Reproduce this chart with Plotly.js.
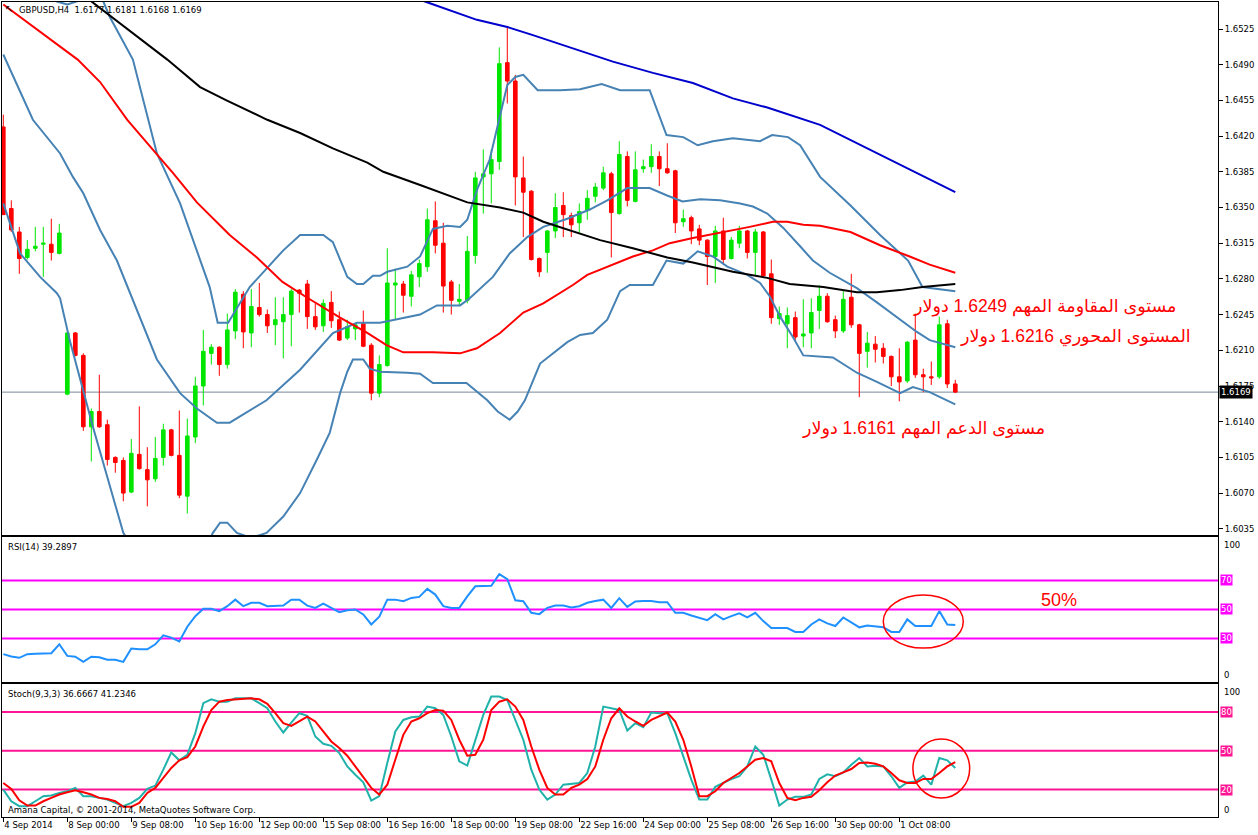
<!DOCTYPE html>
<html><head><meta charset="utf-8">
<script src="https://cdn.plot.ly/plotly-3.0.1.min.js"></script>
<style>html,body{margin:0;padding:0;background:#fff;}#chart{width:1258px;height:835px;}</style>
</head><body><div id="chart"></div>
<script>
// ---------- Candles (GBPUSD H4, bar index 0 = 4 Sep 2014 16:00) ----------
const openP = [1.6429,1.6349,1.6326,1.6301,1.6310,1.6314,1.6314,1.6305,1.6167,1.6227,
1.6205,1.6135,1.6150,1.6137,1.6105,1.6102,1.6071,1.6108,1.6093,1.6084,
1.6105,1.6132,1.6107,1.6067,1.6125,1.6175,1.6207,1.6213,1.6196,1.6229,
1.6265,1.6227,1.6252,1.6245,1.6235,1.6238,1.6245,1.6269,1.6275,1.6243,
1.6234,1.6257,1.6240,1.6222,1.6231,1.6236,1.6215,1.6168,1.6195,1.6274,
1.6275,1.6263,1.6282,1.6292,1.6337,1.6315,1.6277,1.6258,1.6259,1.6303,
1.6380,1.6383,1.6395,1.6492,1.6474,1.6379,1.6366,1.6300,1.6306,1.6327,
1.6352,1.6342,1.6335,1.6347,1.6361,1.6369,1.6383,1.6344,1.6400,1.6356,
1.6388,1.6390,1.6400,1.6388,1.6386,1.6336,1.6340,1.6329,1.6318,1.6302,
1.6327,1.6300,1.6315,1.6327,1.6306,1.6326,1.6285,1.6241,1.6236,1.6242,
1.6224,1.6227,1.6249,1.6263,1.6240,1.6229,1.6262,1.6235,1.6209,1.6216,
1.6212,1.6204,1.6184,1.6180,1.6220,1.6186,1.6184,1.6184,1.6236,1.6177];
const highP = [1.6441,1.6357,1.6331,1.6318,1.6331,1.6331,1.6339,1.6334,1.6228,1.6228,
1.6207,1.6153,1.6186,1.6142,1.6106,1.6105,1.6123,1.6155,1.6115,1.6125,
1.6138,1.6133,1.6151,1.6143,1.6184,1.6230,1.6216,1.6214,1.6246,1.6270,
1.6268,1.6270,1.6276,1.6250,1.6262,1.6262,1.6270,1.6270,1.6279,1.6256,
1.6260,1.6268,1.6248,1.6240,1.6236,1.6249,1.6217,1.6205,1.6310,1.6290,
1.6278,1.6288,1.6299,1.6349,1.6356,1.6335,1.6279,1.6275,1.6322,1.6385,
1.6407,1.6407,1.6507,1.6527,1.6480,1.6400,1.6367,1.6301,1.6328,1.6364,
1.6365,1.6345,1.6354,1.6367,1.6374,1.6390,1.6385,1.6415,1.6405,1.6405,
1.6397,1.6412,1.6405,1.6413,1.6387,1.6348,1.6342,1.6333,1.6319,1.6332,
1.6340,1.6321,1.6332,1.6328,1.6329,1.6327,1.6299,1.6253,1.6252,1.6248,
1.6260,1.6261,1.6274,1.6266,1.6244,1.6268,1.6285,1.6236,1.6228,1.6224,
1.6217,1.6205,1.6212,1.6219,1.6246,1.6192,1.6199,1.6243,1.6240,1.6181];
const lowP = [1.6343,1.6326,1.6285,1.6299,1.6307,1.6282,1.6298,1.6304,1.6166,1.6204,
1.6131,1.6101,1.6134,1.6097,1.6090,1.6062,1.6070,1.6093,1.6057,1.6081,
1.6097,1.6106,1.6065,1.6050,1.6119,1.6156,1.6196,1.6185,1.6192,1.6221,
1.6212,1.6213,1.6243,1.6227,1.6215,1.6202,1.6214,1.6247,1.6231,1.6230,
1.6228,1.6232,1.6219,1.6220,1.6220,1.6213,1.6161,1.6164,1.6194,1.6240,
1.6247,1.6253,1.6272,1.6287,1.6305,1.6247,1.6245,1.6254,1.6256,1.6295,
1.6344,1.6354,1.6387,1.6452,1.6352,1.6321,1.6298,1.6282,1.6286,1.6320,
1.6321,1.6321,1.6325,1.6338,1.6355,1.6367,1.6301,1.6343,1.6351,1.6355,
1.6384,1.6384,1.6371,1.6383,1.6325,1.6331,1.6314,1.6313,1.6274,1.6276,
1.6294,1.6299,1.6310,1.6300,1.6283,1.6282,1.6236,1.6235,1.6212,1.6219,
1.6213,1.6212,1.6231,1.6237,1.6222,1.6227,1.6232,1.6164,1.6193,1.6198,
1.6197,1.6175,1.6160,1.6178,1.6183,1.6169,1.6176,1.6182,1.6173,1.6168];
const closeP = [1.6343,1.6328,1.6300,1.6309,1.6312,1.6315,1.6306,1.6325,1.6227,1.6205,
1.6135,1.6150,1.6135,1.6103,1.6100,1.6070,1.6109,1.6094,1.6083,1.6104,
1.6132,1.6107,1.6068,1.6126,1.6175,1.6209,1.6213,1.6196,1.6230,1.6267,
1.6228,1.6253,1.6245,1.6234,1.6240,1.6245,1.6268,1.6266,1.6243,1.6233,
1.6256,1.6239,1.6220,1.6233,1.6235,1.6214,1.6168,1.6196,1.6276,1.6276,
1.6264,1.6284,1.6295,1.6338,1.6313,1.6273,1.6259,1.6260,1.6307,1.6379,
1.6383,1.6397,1.6491,1.6474,1.6380,1.6365,1.6299,1.6287,1.6327,1.6350,
1.6343,1.6333,1.6346,1.6359,1.6370,1.6384,1.6345,1.6402,1.6357,1.6387,
1.6390,1.6400,1.6388,1.6384,1.6335,1.6339,1.6327,1.6318,1.6302,1.6327,
1.6299,1.6318,1.6327,1.6306,1.6326,1.6283,1.6242,1.6246,1.6244,1.6223,
1.6226,1.6247,1.6263,1.6238,1.6229,1.6260,1.6235,1.6207,1.6217,1.6211,
1.6204,1.6184,1.6179,1.6218,1.6186,1.6184,1.6183,1.6235,1.6177,1.6169];

// ---------- Overlay lines (bar index, price) ----------
const bbUpIdx = [0,5,6.7,8,9.2,10.8,12.5,13.3,16.2,19.2,22.1,25.8,26.8,28.1,30.8,35,37.1,40,41.2,43,44.2,45,46.2,47.1,48,50.5,52.1,53.7,55.5,57.1,58,59.2,60.8,62.1,63,64,65,66.8,69.6,72.1,74.8,77.1,80.8,82.9,85,86.8,88.7,91.2,94.6,96.1,98.1,99.6,102.1,105.9,109.6,113.1,114.9,119];
const bbUpVal = [1.6580,1.6560,1.6552,1.6549,1.6552,1.6562,1.6552,1.6537,1.6495,1.6403,1.6354,1.6272,1.6237,1.6237,1.6272,1.6308,1.6323,1.6323,1.6316,1.6282,1.6275,1.6275,1.6283,1.6283,1.6287,1.6292,1.6302,1.6329,1.6332,1.6331,1.6338,1.6367,1.6397,1.6439,1.6470,1.6478,1.6480,1.6465,1.6465,1.6466,1.6471,1.6465,1.6465,1.6421,1.6419,1.6411,1.6415,1.6418,1.6415,1.6421,1.6419,1.6411,1.6380,1.6352,1.6323,1.6298,1.6272,1.6268];
const bbMidIdx = [0,3.7,7.1,8.7,10,12.1,14.2,16.2,19.2,22.1,24.2,26.7,28.3,32.9,37.1,41.2,44.2,47.1,50.5,52.1,54.2,57.1,58.3,61.2,63.3,65.5,67.5,70.5,73.3,75.5,78,80.8,82.9,84.9,87.1,89.6,92.1,93.7,95.5,97.5,99.6,101.2,103.3,106.7,109.2,112.1,114.2,115.8,119];
const bbMidVal = [1.6500,1.6436,1.6403,1.6380,1.6364,1.6328,1.6298,1.6259,1.6201,1.6168,1.6153,1.6139,1.6139,1.6161,1.6191,1.6227,1.6237,1.6237,1.6242,1.6245,1.6254,1.6254,1.6261,1.6282,1.6305,1.6321,1.6331,1.6339,1.6348,1.6357,1.6369,1.6369,1.6362,1.6356,1.6358,1.6357,1.6354,1.6351,1.6344,1.6330,1.6312,1.6298,1.6286,1.6271,1.6257,1.6240,1.6228,1.6220,1.6213];
const bbLowIdx = [0,2.1,4.6,6.7,7.1,8.3,11.2,15,17,20,23,25.8,26.2,27.1,28,29.2,31,32.9,35,37.1,39.2,40.8,42.1,43,43.7,45,45.8,47.1,50.5,52.1,53.7,57.9,60.5,61.8,63.3,64.3,65.2,67.1,70.5,72.1,73.7,75.5,77.1,78.3,81.2,82.9,85,86.8,88.7,90.5,93,94.6,95.8,97.1,98.7,100,103.7,106.7,109.2,112.1,113.7,115.8,119];
const bbLowVal = [1.6354,1.6305,1.6282,1.6266,1.6261,1.6220,1.6135,1.6031,1.6008,1.5990,1.5995,1.6025,1.6031,1.6041,1.6041,1.6031,1.6026,1.6031,1.6047,1.6070,1.6103,1.6129,1.6168,1.6189,1.6201,1.6201,1.6192,1.6189,1.6188,1.6187,1.6178,1.6178,1.6161,1.6150,1.6142,1.6150,1.6161,1.6197,1.6218,1.6225,1.6227,1.6240,1.6268,1.6274,1.6274,1.6298,1.6295,1.6307,1.6302,1.6292,1.6284,1.6276,1.6263,1.6243,1.6223,1.6205,1.6203,1.6188,1.6179,1.6168,1.6174,1.6169,1.6157];
const maRedIdx = [0,9.3,12.1,15.5,19.2,21.2,24.2,28.3,31.7,34.9,37.9,42.1,45.5,47.9,50,53.7,57.1,59.2,62.1,65,67.5,71.2,73,76.2,78.7,81.2,83.3,86.2,89.6,93.3,96.2,98,100,102.1,105.9,109.6,113.3,115.8,119];
const maRedVal = [1.6549,1.6495,1.6473,1.6436,1.6402,1.6384,1.6355,1.6323,1.6301,1.6277,1.6262,1.6242,1.6227,1.6215,1.6208,1.6208,1.6207,1.6212,1.6227,1.6247,1.6256,1.6274,1.6284,1.6294,1.6302,1.6308,1.6315,1.6320,1.6325,1.6331,1.6336,1.6336,1.6333,1.6332,1.6326,1.6313,1.6302,1.6294,1.6286];
const maBlackIdx = [0,10.85,20.5,24.6,27.9,33,37.1,41.2,45.5,47.5,52.1,55,58,62.1,65,67.5,71.2,74.6,78.7,83,86.2,89.2,91.2,95.5,98.3,102.5,106.7,109.2,112.1,114.9,119];
const maBlackVal = [1.6600,1.6553,1.6495,1.6468,1.6455,1.6436,1.6423,1.6408,1.6394,1.6385,1.6372,1.6364,1.6355,1.6350,1.6345,1.6336,1.6327,1.6318,1.6310,1.6301,1.6296,1.6291,1.6287,1.6281,1.6275,1.6272,1.6267,1.6267,1.6269,1.6272,1.6275];
const maBlueIdx = [40,52.7,59.2,63,66.2,71.2,76.2,81.2,86.2,91.2,95.5,102.1,110,119];
const maBlueVal = [1.6583,1.6552,1.6534,1.6527,1.6519,1.6506,1.6493,1.6482,1.6472,1.6457,1.6448,1.6431,1.6400,1.6365];

// ---------- Indicators (one value per bar) ----------
const rsi14 = [19.2,17.6,16.7,19.2,19.4,19.9,19.9,26.0,18.0,17.4,13.9,17.4,17.1,15.3,15.3,13.9,23.1,22.6,22.6,26.0,
32.2,30.6,27.9,38.1,45.4,50.5,50.5,48.9,52.3,56.8,52.3,54.6,54.6,52.3,52.3,52.7,56.8,56.8,52.7,51.1,
54.1,51.1,48.2,49.5,50.0,46.6,39.7,45.0,56.8,56.8,55.7,58.0,58.7,64.2,60.3,52.3,51.1,51.1,59.1,66.0,
66.0,66.4,74.4,71.0,56.4,55.7,47.7,46.8,51.1,52.7,52.7,51.4,52.3,54.6,55.9,56.8,51.1,57.8,51.8,55.5,
55.9,55.9,55.0,55.0,47.7,47.7,45.9,44.3,42.7,46.8,43.2,45.4,47.3,44.5,47.7,42.0,37.2,37.2,37.2,34.5,
34.5,39.7,43.2,40.4,38.6,44.5,40.9,37.7,39.0,38.1,37.7,34.5,34.5,43.2,38.6,38.6,38.6,48.9,39.7,39.3];
const stochK = [20.0,11.0,7.2,7.2,11.0,14.9,15.4,17.4,18.7,21.3,14.9,14.9,13.6,12.3,9.7,7.2,9.7,13.6,20.5,23.1,
35.4,48.7,42.6,46.9,63.6,86.7,89.7,87.9,87.9,90.5,90.5,90.5,86.7,82.8,72.6,64.1,71.8,79.0,76.9,61.0,
55.4,53.8,48.2,37.9,31.5,25.6,11.5,14.9,40.5,64.9,73.8,75.9,76.4,84.1,82.8,77.7,61.0,41.8,38.5,58.5,
77.7,91.8,91.8,89.2,73.8,58.5,35.4,20.0,12.3,16.2,23.8,24.4,25.1,32.8,53.3,84.1,82.8,81.5,65.6,71.3,
68.2,79.5,79.0,79.0,63.6,45.6,27.7,12.3,12.3,22.1,25.1,28.2,30.3,37.9,53.3,46.9,27.7,7.7,12.3,14.4,
14.4,16.2,28.2,31.8,30.3,33.3,39.2,44.4,37.9,38.5,37.9,30.3,21.3,25.6,26.2,30.8,23.8,44.4,42.6,36.7];
const stochD = [25.1,20.5,11.8,7.7,7.7,11.0,13.6,16.2,17.9,19.5,17.9,16.2,13.6,12.8,11.0,6.7,6.7,9.7,17.4,21.3,
29.0,36.7,42.6,45.1,53.3,68.7,81.5,87.9,89.2,89.7,89.7,90.5,89.7,86.2,79.0,71.3,69.2,72.6,76.4,72.6,
64.9,57.2,52.1,46.2,37.9,29.7,21.3,16.2,23.8,43.1,62.3,72.6,75.1,79.0,81.5,81.0,73.8,58.5,46.2,46.9,
58.5,81.5,87.9,89.7,84.1,73.8,53.3,35.4,21.3,16.2,16.2,21.3,23.8,28.2,37.9,58.5,75.1,82.8,76.4,72.6,
69.2,73.8,76.9,79.5,72.6,58.5,37.9,14.9,14.9,18.7,25.1,28.7,32.8,37.9,43.1,44.4,41.8,25.1,13.6,11.8,
13.6,14.4,19.5,25.6,30.8,33.3,35.9,40.5,41.0,40.0,37.9,32.8,27.2,25.1,25.1,28.2,28.2,32.8,37.9,41.2];

// ---------- Axis labels ----------
const timeTickIdx = [0,8,16,24,32,40,48,56,64,72,80,88,96,104,112];
const timeTickText = ['4 Sep 2014','8 Sep 00:00','9 Sep 08:00','10 Sep 16:00','12 Sep 00:00','15 Sep 08:00','16 Sep 16:00','18 Sep 00:00','19 Sep 08:00','22 Sep 16:00','24 Sep 00:00','25 Sep 08:00','26 Sep 16:00','30 Sep 00:00','1 Oct 08:00'];
const priceTicks = [1.6035,1.6070,1.6105,1.6140,1.6175,1.6210,1.6245,1.6280,1.6315,1.6350,1.6385,1.6420,1.6455,1.6490,1.6525];
const rsiLevels = [70,50,30];
const stochLevels = [80,50,20];
const lastPrice = 1.6169;

// Arabic commentary, words listed in on-screen order (left to right)
const noteResistance = ['دولار', '1.6249', 'المهم', 'المقاومة', 'مستوى'];
const notePivot = ['دولار', '1.6216', 'المحوري', 'المستوى'];
const noteSupport = ['دولار', '1.6161', 'المهم', 'الدعم', 'مستوى'];

const barIdx = closeP.map((_, i) => i);

const MT = 'DejaVu Sans';
const FS = 8.5;
const px = x => (x - 2) / 1216;
const py = y => (817 - y) / 815;
const visual = words => words.map(w => '\u2066' + w + '\u2069').join(' ');

const traces = [
  {type:'candlestick', x:barIdx, open:openP, high:highP, low:lowP, close:closeP, xaxis:'x', yaxis:'y',
   increasing:{line:{color:'#00E600', width:1}, fillcolor:'#00E600'},
   decreasing:{line:{color:'#FF0000', width:1}, fillcolor:'#FF0000'},
   whiskerwidth:0, hoverinfo:'skip'},
  {type:'scatter', mode:'lines', x:bbUpIdx, y:bbUpVal, line:{color:'#4682B4', width:2}, hoverinfo:'skip'},
  {type:'scatter', mode:'lines', x:bbMidIdx, y:bbMidVal, line:{color:'#4682B4', width:2}, hoverinfo:'skip'},
  {type:'scatter', mode:'lines', x:bbLowIdx, y:bbLowVal, line:{color:'#4682B4', width:2}, hoverinfo:'skip'},
  {type:'scatter', mode:'lines', x:maRedIdx, y:maRedVal, line:{color:'#FF0000', width:2}, hoverinfo:'skip'},
  {type:'scatter', mode:'lines', x:maBlackIdx, y:maBlackVal, line:{color:'#000000', width:2}, hoverinfo:'skip'},
  {type:'scatter', mode:'lines', x:maBlueIdx, y:maBlueVal, line:{color:'#0000CD', width:2}, hoverinfo:'skip'},
  {type:'scatter', mode:'lines', x:barIdx, y:rsi14, xaxis:'x2', yaxis:'y2', line:{color:'#1E90FF', width:2}, hoverinfo:'skip'},
  {type:'scatter', mode:'lines', x:barIdx, y:stochK, xaxis:'x3', yaxis:'y3', line:{color:'#20B2AA', width:2}, hoverinfo:'skip'},
  {type:'scatter', mode:'lines', x:barIdx, y:stochD, xaxis:'x3', yaxis:'y3', line:{color:'#FF0000', width:2}, hoverinfo:'skip'}
];

const xr = [-0.1625, 151.84];
const baseX = {range:xr, showgrid:false, zeroline:false, showline:true, mirror:true, linecolor:'#000', linewidth:1,
  fixedrange:true, showticklabels:false, ticks:''};
const baseY = {showgrid:false, zeroline:false, showline:true, mirror:true, linecolor:'#000', linewidth:1,
  fixedrange:true, side:'right'};

const shapes = [];
shapes.push({type:'line', xref:'x', yref:'y', x0:-5, x1:200, y0:lastPrice, y1:lastPrice, line:{color:'#778899', width:1}, layer:'below'});
rsiLevels.forEach(v => shapes.push({type:'line', xref:'x2', yref:'y2', x0:-5, x1:200, y0:v, y1:v, line:{color:'#FF00FF', width:2}, layer:'below'}));
stochLevels.forEach(v => shapes.push({type:'line', xref:'x3', yref:'y3', x0:-5, x1:200, y0:v, y1:v, line:{color:'#FF1493', width:2}, layer:'below'}));
shapes.push({type:'circle', xref:'x2', yref:'y2', x0:110.0, x1:120.0, y0:23.4, y1:60.0, line:{color:'#FF0000', width:1.5}});
shapes.push({type:'circle', xref:'x3', yref:'y3', x0:113.7, x1:120.8, y0:13.5, y1:59.1, line:{color:'#FF0000', width:1.5}});

const ann = [];
const txt = (x, y, t, extra) => Object.assign({xref:'paper', yref:'paper', x:px(x), y:py(y), text:t, showarrow:false,
  xanchor:'left', yanchor:'middle', font:{family:MT, size:FS, color:'#000'}}, extra || {});
ann.push(txt(3, 9, '↖', {font:{family:MT, size:10, color:'#000'}}));
ann.push(txt(17, 10, 'GBPUSD,H4\u00a0\u00a01.6177 1.6181 1.6168 1.6169'));
ann.push(txt(6, 547, 'RSI(14) 39.2897'));
ann.push(txt(6, 694, 'Stoch(9,3,3) 36.6667 41.2346'));
ann.push(txt(6, 810, 'Amana Capital, © 2001-2014, MetaQuotes Software Corp.'));
ann.push(txt(1222, 545, '100'));
ann.push(txt(1222, 675, '0'));
ann.push(txt(1222, 692, '100'));
ann.push(txt(1222, 810, '0'));
rsiLevels.forEach(v => ann.push({xref:'paper', yref:'y2', x:px(1220), y:v, text:String(v), showarrow:false, xanchor:'left', yanchor:'middle',
  bgcolor:'#FF00FF', borderpad:0, font:{family:MT, size:FS, color:'#fff'}}));
stochLevels.forEach(v => ann.push({xref:'paper', yref:'y3', x:px(1220), y:v, text:String(v), showarrow:false, xanchor:'left', yanchor:'middle',
  bgcolor:'#FF1493', borderpad:0, font:{family:MT, size:FS, color:'#fff'}}));
ann.push({xref:'paper', yref:'y', x:px(1219), y:lastPrice, text:'1.6169', showarrow:false, xanchor:'left', yanchor:'middle',
  bgcolor:'#000', borderpad:1, font:{family:MT, size:FS, color:'#fff'}});
const AR = 'Liberation Sans, DejaVu Sans, sans-serif';
const arFont = {family:AR, size:17.5, color:'#FF0000'};
ann.push({xref:'paper', yref:'paper', x:px(1044), y:py(307), text:visual(noteResistance), showarrow:false, xanchor:'center', yanchor:'middle', font:arFont});
ann.push({xref:'paper', yref:'paper', x:px(1075), y:py(336), text:visual(notePivot), showarrow:false, xanchor:'center', yanchor:'middle', font:arFont});
ann.push({xref:'paper', yref:'paper', x:px(923), y:py(428), text:visual(noteSupport), showarrow:false, xanchor:'center', yanchor:'middle', font:arFont});
ann.push({xref:'paper', yref:'paper', x:px(1059), y:py(600), text:'50%', showarrow:false, xanchor:'center', yanchor:'middle', font:{family:AR, size:18, color:'#FF0000'}});

const layout = {
  width:1258, height:835, margin:{l:2, r:40, t:2, b:18},
  paper_bgcolor:'#fff', plot_bgcolor:'#fff', showlegend:false, hovermode:false, dragmode:false,
  xaxis: Object.assign({}, baseX, {anchor:'y', rangeslider:{visible:false}}),
  xaxis2: Object.assign({}, baseX, {anchor:'y2'}),
  xaxis3: Object.assign({}, baseX, {anchor:'y3', tickmode:'array', tickvals:timeTickIdx, ticktext:timeTickText,
    showticklabels:true, ticks:'outside', ticklen:4, tickcolor:'#000', ticklabelposition:'outside right', tickangle:0,
    ticklabelstandoff:0, tickfont:{family:MT, size:FS, color:'#000'}}),
  yaxis: Object.assign({}, baseY, {anchor:'x', domain:[0.34601, 1], range:[1.602892, 1.655147], tickmode:'array',
    tickvals:priceTicks, ticktext:priceTicks.map(v => v.toFixed(4)), ticks:'outside', ticklen:4, tickcolor:'#000',
    tickfont:{family:MT, size:FS, color:'#000'}}),
  yaxis2: Object.assign({}, baseY, {anchor:'x2', domain:[0.16564, 0.34356], range:[0, 100], showticklabels:false, ticks:''}),
  yaxis3: Object.assign({}, baseY, {anchor:'x3', domain:[0, 0.16319], range:[-1.158, 101.544], showticklabels:false, ticks:''}),
  shapes: shapes, annotations: ann,
  boxgap: 0.35
};

Plotly.newPlot('chart', traces, layout, {staticPlot:true, displayModeBar:false});
</script></body></html>
